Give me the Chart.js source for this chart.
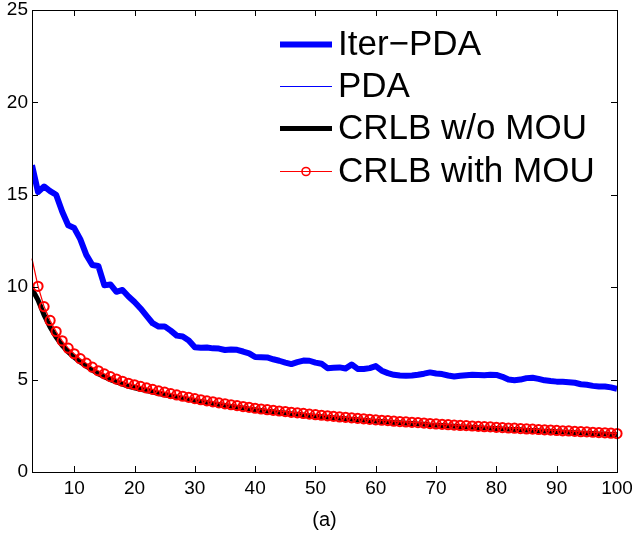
<!DOCTYPE html>
<html>
<head>
<meta charset="utf-8">
<script src="https://cdn.jsdelivr.net/npm/chart.js@4.4.0/dist/chart.umd.min.js"></script>
<style>
  html, body { margin: 0; padding: 0; background: #fff; }
</style>
</head>
<body>
<canvas id="chart" width="632" height="535"></canvas>
<script>
// x = number of scans (3..100)
const xVals = [3, 4, 5, 6, 7, 8, 9, 10,
  11, 12, 13, 14, 15, 16, 17, 18, 19, 20,
  21, 22, 23, 24, 25, 26, 27, 28, 29, 30,
  31, 32, 33, 34, 35, 36, 37, 38, 39, 40,
  41, 42, 43, 44, 45, 46, 47, 48, 49, 50,
  51, 52, 53, 54, 55, 56, 57, 58, 59, 60,
  61, 62, 63, 64, 65, 66, 67, 68, 69, 70,
  71, 72, 73, 74, 75, 76, 77, 78, 79, 80,
  81, 82, 83, 84, 85, 86, 87, 88, 89, 90,
  91, 92, 93, 94, 95, 96, 97, 98, 99, 100];

const iterPda = [16.6, 15.15, 15.45, 15.2, 15.0, 14.1, 13.35, 13.2,
  12.6, 11.75, 11.2, 11.15, 10.1, 10.15, 9.75, 9.85, 9.5, 9.2,
  8.85, 8.45, 8.05, 7.87, 7.88, 7.65, 7.38, 7.33, 7.12, 6.75,
  6.72, 6.74, 6.69, 6.68, 6.6, 6.63, 6.61, 6.52, 6.42, 6.22,
  6.21, 6.2, 6.1, 6.02, 5.92, 5.84, 5.95, 6.03, 6.02, 5.92,
  5.86, 5.62, 5.64, 5.66, 5.6, 5.82, 5.58, 5.57, 5.62, 5.73,
  5.48, 5.35, 5.26, 5.22, 5.21, 5.22, 5.26, 5.32, 5.39, 5.33,
  5.3, 5.22, 5.17, 5.21, 5.24, 5.26, 5.25, 5.24, 5.26, 5.25,
  5.15, 5.0, 4.97, 5.0, 5.08, 5.1, 5.04, 4.96, 4.92, 4.89,
  4.88, 4.86, 4.83, 4.75, 4.72, 4.66, 4.63, 4.63, 4.58, 4.5];

// PDA curve sits underneath the Iter-PDA curve in the picture
const pda = iterPda;

const crlbNoMou = [9.9, 9.3, 8.5, 7.85, 7.3, 6.85, 6.5, 6.2,
  5.95, 5.72, 5.51, 5.32, 5.15, 5.0, 4.87, 4.75, 4.64, 4.56,
  4.48, 4.4, 4.32, 4.25, 4.18, 4.11, 4.05, 3.99, 3.93, 3.87,
  3.81, 3.76, 3.7, 3.65, 3.6, 3.55, 3.5, 3.46, 3.41, 3.37,
  3.33, 3.29, 3.26, 3.22, 3.19, 3.15, 3.12, 3.09, 3.05, 3.02,
  2.99, 2.96, 2.93, 2.91, 2.88, 2.85, 2.83, 2.8, 2.77, 2.75,
  2.73, 2.71, 2.68, 2.66, 2.64, 2.62, 2.6, 2.58, 2.55, 2.53,
  2.51, 2.49, 2.47, 2.45, 2.44, 2.42, 2.4, 2.38, 2.37, 2.35,
  2.33, 2.31, 2.3, 2.28, 2.26, 2.25, 2.23, 2.21, 2.2, 2.18,
  2.16, 2.15, 2.13, 2.11, 2.1, 2.08, 2.06, 2.05, 2.03, 2.01];

const crlbMou = [11.55, 10.05, 8.95, 8.2, 7.6, 7.1, 6.7, 6.4,
  6.13, 5.89, 5.67, 5.48, 5.31, 5.16, 5.03, 4.91, 4.8, 4.72,
  4.63, 4.55, 4.47, 4.39, 4.32, 4.24, 4.17, 4.1, 4.04, 3.97,
  3.91, 3.85, 3.8, 3.74, 3.69, 3.64, 3.59, 3.54, 3.5, 3.45,
  3.41, 3.37, 3.34, 3.3, 3.27, 3.23, 3.2, 3.17, 3.13, 3.1,
  3.07, 3.04, 3.01, 2.98, 2.96, 2.93, 2.9, 2.88, 2.85, 2.82,
  2.8, 2.78, 2.75, 2.73, 2.71, 2.69, 2.67, 2.65, 2.62, 2.6,
  2.58, 2.56, 2.54, 2.52, 2.51, 2.49, 2.47, 2.45, 2.44, 2.42,
  2.4, 2.38, 2.37, 2.35, 2.33, 2.32, 2.3, 2.28, 2.27, 2.25,
  2.23, 2.22, 2.2, 2.18, 2.17, 2.15, 2.13, 2.12, 2.1, 2.08];

const xTicks = [10, 20, 30, 40, 50, 60, 70, 80, 90, 100];
const seriesNames = ['Iter\u2212PDA', 'PDA', 'CRLB w/o MOU', 'CRLB with MOU'];
const caption = '(a)';

const FONT = '"Liberation Sans", Arial, Helvetica, sans-serif';

function pts(ys) {
  return ys.map((y, i) => ({ x: xVals[i], y: y }));
}

// box around the plot with inward ticks on all four sides
const framePlugin = {
  id: 'frame',
  afterDatasetsDraw(chart) {
    const { ctx, chartArea: a, scales } = chart;
    const tl = 6;
    ctx.save();
    ctx.strokeStyle = '#000';
    ctx.lineWidth = 1;
    ctx.strokeRect(Math.round(a.left) + 0.5, Math.round(a.top) + 0.5,
      Math.round(a.right - a.left), Math.round(a.bottom - a.top));
    ctx.beginPath();
    scales.x.ticks.forEach(t => {
      const px = Math.round(scales.x.getPixelForValue(t.value)) + 0.5;
      ctx.moveTo(px, a.bottom); ctx.lineTo(px, a.bottom - tl);
      ctx.moveTo(px, a.top); ctx.lineTo(px, a.top + tl);
    });
    scales.y.ticks.forEach(t => {
      const py = Math.round(scales.y.getPixelForValue(t.value)) + 0.5;
      ctx.moveTo(a.left, py); ctx.lineTo(a.left + tl, py);
      ctx.moveTo(a.right, py); ctx.lineTo(a.right - tl, py);
    });
    ctx.stroke();
    ctx.restore();
  }
};

// legend inside the plot (top right, no box) and the "(a)" caption
const legendPlugin = {
  id: 'insideLegend',
  afterDraw(chart) {
    const ctx = chart.ctx;
    const sets = chart.data.datasets;
    const x0 = 280, x1 = 332, tx = 338;
    const rows = [44, 86, 128, 171];
    ctx.save();
    ctx.font = '35px ' + FONT;
    ctx.textBaseline = 'middle';
    ctx.fillStyle = '#000';
    seriesNames.forEach((name, i) => {
      const ds = sets.find(d => d.label === name);
      const y = rows[i] + 0.5;
      ctx.beginPath();
      ctx.strokeStyle = ds.borderColor;
      ctx.lineWidth = ds.borderWidth;
      ctx.moveTo(x0, y); ctx.lineTo(x1, y);
      ctx.stroke();
      if (ds.legendMarker) {
        ctx.beginPath();
        ctx.lineWidth = 1.6;
        ctx.arc((x0 + x1) / 2, y, 4, 0, Math.PI * 2);
        ctx.stroke();
      }
      ctx.fillText(name, tx, rows[i] + 1);
    });
    ctx.font = '20px ' + FONT;
    ctx.textAlign = 'center';
    ctx.fillText(caption, (chart.chartArea.left + chart.chartArea.right) / 2, 520);
    ctx.restore();
  }
};

const redRadius = crlbMou.map((v, i) => (i === 0 ? 0 : 4.6));

new Chart(document.getElementById('chart'), {
  type: 'line',
  data: {
    datasets: [
      {
        label: seriesNames[3],
        data: pts(crlbMou),
        borderColor: '#ff0000',
        borderWidth: 1.2,
        pointRadius: redRadius,
        pointBorderWidth: 2,
        pointBorderColor: '#ff0000',
        pointBackgroundColor: 'rgba(0,0,0,0)',
        legendMarker: true,
        clip: false,
        order: 0
      },
      {
        label: seriesNames[2],
        data: pts(crlbNoMou),
        borderColor: '#000000',
        borderWidth: 5,
        pointRadius: 0,
        order: 1
      },
      {
        label: seriesNames[1],
        data: pts(pda),
        borderColor: '#0000ff',
        borderWidth: 1,
        pointRadius: 0,
        order: 2
      },
      {
        label: seriesNames[0],
        data: pts(iterPda),
        borderColor: '#0000ff',
        borderWidth: 6,
        borderJoinStyle: 'round',
        pointRadius: 0,
        order: 3
      }
    ]
  },
  options: {
    responsive: false,
    animation: false,
    layout: { padding: { top: 10, right: 15, left: 0, bottom: 0 } },
    plugins: {
      legend: { display: false },
      tooltip: { enabled: false }
    },
    elements: { line: { tension: 0, fill: false } },
    scales: {
      x: {
        type: 'linear',
        min: 3,
        max: 100,
        afterBuildTicks(scale) {
          scale.ticks = xTicks.map(v => ({ value: v }));
        },
        afterFit(scale) {
          scale.height = 63;
          scale.paddingLeft = 0;
          scale.paddingRight = 0;
        },
        grid: { display: false, drawTicks: false },
        border: { display: false },
        ticks: {
          color: '#000',
          font: { family: FONT, size: 19 },
          padding: 5,
          maxRotation: 0,
          autoSkip: false
        }
      },
      y: {
        min: 0,
        max: 25,
        afterFit(scale) {
          scale.width = 32;
          scale.paddingTop = 0;
          scale.paddingBottom = 0;
        },
        grid: { display: false, drawTicks: false },
        border: { display: false },
        ticks: {
          stepSize: 5,
          color: '#000',
          font: { family: FONT, size: 19 },
          padding: 4
        }
      }
    }
  },
  plugins: [framePlugin, legendPlugin]
});
</script>
</body>
</html>
